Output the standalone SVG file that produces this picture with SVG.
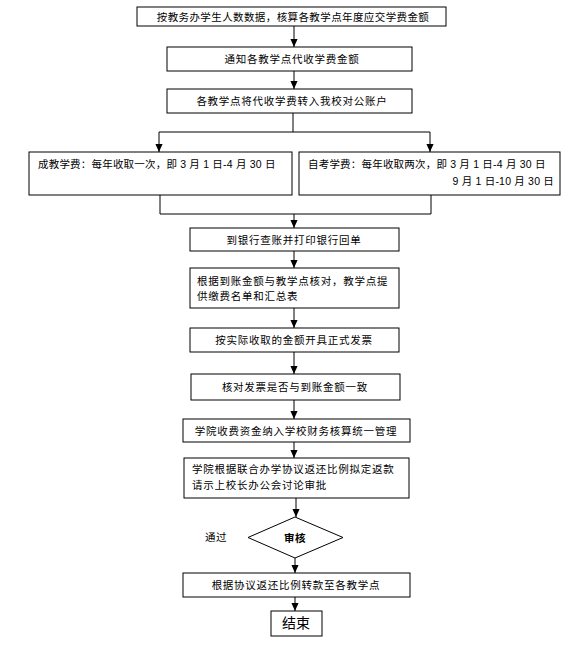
<svg xmlns="http://www.w3.org/2000/svg" width="581" height="651" viewBox="0 0 581 651">
<style>
.box{fill:#fff;stroke:#000;stroke-width:1}
.t{font-family:"Liberation Sans","Noto Sans CJK SC",sans-serif;font-size:10.5px;fill:#000;letter-spacing:0.4px}
.w{letter-spacing:0.75px}
.n{letter-spacing:0.2px}
.c{text-anchor:middle}
.ln{fill:none;stroke:#000;stroke-width:1}
</style>
<defs>
<marker id="a" markerUnits="userSpaceOnUse" markerWidth="8" markerHeight="9" refX="9" refY="4" orient="auto" viewBox="0 0 9 8">
<path d="M0,0 L9,4 L0,8 Z" fill="#000"/>
</marker>
</defs>
<rect width="581" height="651" fill="#fff"/>
<g id="connectors">
<path class="ln" d="M294,26 V47" marker-end="url(#a)"/>
<path class="ln" d="M294,71 V89" marker-end="url(#a)"/>
<path class="ln" d="M293,113 V132"/>
<path class="ln" d="M159,132 H430"/>
<path class="ln" d="M159,132 V152" marker-end="url(#a)"/>
<path class="ln" d="M430,132 V152" marker-end="url(#a)"/>
<path class="ln" d="M160,195 V214 H431 V195"/>
<path class="ln" d="M294,214 V228" marker-end="url(#a)"/>
<path class="ln" d="M294,251 V268" marker-end="url(#a)"/>
<path class="ln" d="M294,308 V328" marker-end="url(#a)"/>
<path class="ln" d="M294,352 V374" marker-end="url(#a)"/>
<path class="ln" d="M294,400 V419" marker-end="url(#a)"/>
<path class="ln" d="M294,442 V458" marker-end="url(#a)"/>
<path class="ln" d="M296,498 V517" marker-end="url(#a)"/>
<path class="ln" d="M295,558 V573" marker-end="url(#a)"/>
<path class="ln" d="M295,597 V611" marker-end="url(#a)"/>
</g>
<g id="n1"><rect class="box" x="137" y="7" width="309" height="19"/><text class="t c" x="293" y="21">按教务办学生人数数据，核算各教学点年度应交学费金额</text></g>
<g id="n2"><rect class="box" x="167" y="47" width="245" height="24"/><text class="t c w" x="292" y="63">通知各教学点代收学费金额</text></g>
<g id="n3"><rect class="box" x="167" y="89" width="245" height="24"/><text class="t c w" x="292" y="105">各教学点将代收学费转入我校对公账户</text></g>
<g id="n4"><rect class="box" x="29" y="152" width="263" height="43"/><text class="t n" x="38" y="168">成教学费：每年收取一次，即 3 月 1 日-4 月 30 日</text></g>
<g id="n5"><rect class="box" x="299" y="152" width="261" height="43"/><text class="t n" x="308" y="168">自考学费：每年收取两次，即 3 月 1 日-4 月 30 日</text><text class="t n" x="554" y="185" text-anchor="end">9 月 1 日-10 月 30 日</text></g>
<g id="n6"><rect class="box" x="190" y="228" width="209" height="23"/><text class="t c w" x="294" y="244">到银行查账并打印银行回单</text></g>
<g id="n7"><rect class="box" x="190" y="268" width="209" height="40"/><text class="t w" x="197" y="285">根据到账金额与教学点核对，教学点提</text><text class="t w" x="197" y="300">供缴费名单和汇总表</text></g>
<g id="n8"><rect class="box" x="190" y="328" width="209" height="24"/><text class="t c w" x="294" y="344">按实际收取的金额开具正式发票</text></g>
<g id="n9"><rect class="box" x="191" y="374" width="209" height="26"/><text class="t c w" x="295" y="391">核对发票是否与到账金额一致</text></g>
<g id="n10"><rect class="box" x="183" y="419" width="227" height="23"/><text class="t c w" x="296" y="435">学院收费资金纳入学校财务核算统一管理</text></g>
<g id="n11"><rect class="box" x="184" y="458" width="225" height="40"/><text class="t w" x="192" y="473">学院根据联合办学协议返还比例拟定返款</text><text class="t w" x="192" y="489">请示上校长办公会讨论审批</text></g>
<g id="n12"><path class="box" d="M295,517 L343,537.5 L295,558 L248,537.5 Z"/><text class="t c" x="295" y="542" font-weight="bold">审核</text></g>
<g id="lbl"><text class="t" x="205" y="541">通过</text></g>
<g id="n13"><rect class="box" x="183" y="573" width="227" height="24"/><text class="t c w" x="296" y="589">根据协议返还比例转款至各教学点</text></g>
<g id="n14"><rect class="box" x="271" y="611" width="51" height="25"/><text class="t c" x="296" y="628" style="font-size:14px;letter-spacing:0">结束</text></g>
</svg>
